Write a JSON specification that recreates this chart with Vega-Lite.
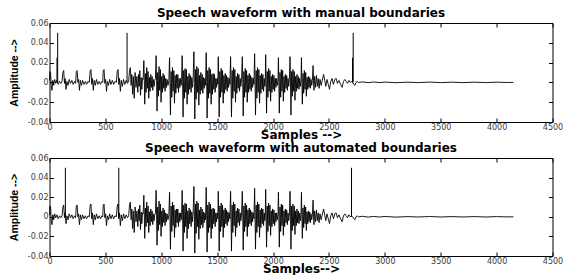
{
  "$schema": "https://vega.github.io/schema/vega-lite/v6.json",
  "padding": {"left": 8.5, "top": 6, "right": 1, "bottom": 0},
  "spacing": 0,
  "background": "white",
  "config": {
    "view": {"stroke": "black", "strokeWidth": 1},
    "axis": {"grid": false, "domain": false, "labelFlush": false, "tickColor": "black", "tickSize": -4, "labelPadding": 5.5, "labelFont": "DejaVu Sans", "labelFontSize": 8, "labelColor": "#3a3a3a", "titleFont": "DejaVu Sans", "titleFontWeight": "bold", "titleColor": "black", "titleFontSize": 12},
    "title": {"font": "DejaVu Sans", "fontSize": 12, "fontWeight": "bold", "color": "black", "offset": -1}
  },
  "datasets": {
    "bounds": [
      {"panel": "manual", "s": 73, "top": 0.05},
      {"panel": "manual", "s": 67, "top": 0.025},
      {"panel": "manual", "s": 694, "top": 0.05},
      {"panel": "manual", "s": 2717, "top": 0.05},
      {"panel": "manual", "s": 2711, "top": 0.025},
      {"panel": "auto", "s": 142, "top": 0.05},
      {"panel": "auto", "s": 620, "top": 0.05},
      {"panel": "auto", "s": 2702, "top": 0.05}
    ],
    "wave": [
      {"s":0,"a":0.002},{"s":4,"a":0.011},{"s":10,"a":0.009},{"s":16,"a":-0.004},{"s":22,"a":-0.008},{"s":30,"a":0.002},{"s":38,"a":-0.003},{"s":46,"a":0.003},{"s":56,"a":-0.001},{"s":66,"a":0.002},{"s":78,"a":-0.002},{"s":90,"a":0.001},{"s":102,"a":-0.001},{"s":112,"a":0.001},
      {"s":120,"a":0.010},{"s":127,"a":0.012},{"s":134,"a":-0.001},{"s":140,"a":0.004},{"s":148,"a":-0.007},{"s":156,"a":0.001},{"s":166,"a":-0.003},{"s":176,"a":0.003},{"s":188,"a":-0.001},{"s":200,"a":0.002},{"s":212,"a":-0.002},{"s":224,"a":0.001},{"s":234,"a":-0.001},
      {"s":240,"a":0.011},{"s":247,"a":0.012},{"s":254,"a":0.000},{"s":260,"a":0.003},{"s":268,"a":-0.008},{"s":276,"a":0.002},{"s":286,"a":-0.003},{"s":296,"a":0.002},{"s":308,"a":-0.002},{"s":320,"a":0.001},{"s":332,"a":-0.002},{"s":344,"a":0.001},{"s":356,"a":0.000},
      {"s":364,"a":0.012},{"s":371,"a":0.013},{"s":378,"a":-0.002},{"s":384,"a":0.004},{"s":392,"a":-0.008},{"s":400,"a":0.002},{"s":410,"a":-0.003},{"s":420,"a":0.003},{"s":432,"a":-0.002},{"s":444,"a":0.001},{"s":456,"a":-0.002},{"s":468,"a":0.001},{"s":476,"a":0.000},
      {"s":481,"a":0.012},{"s":488,"a":0.013},{"s":495,"a":-0.001},{"s":502,"a":0.003},{"s":510,"a":-0.009},{"s":518,"a":0.001},{"s":528,"a":-0.003},{"s":538,"a":0.003},{"s":550,"a":-0.002},{"s":562,"a":0.002},{"s":574,"a":-0.002},{"s":586,"a":0.001},{"s":598,"a":0.000},
      {"s":606,"a":0.011},{"s":613,"a":0.013},{"s":620,"a":-0.002},{"s":626,"a":0.004},{"s":634,"a":-0.009},{"s":642,"a":0.002},{"s":652,"a":-0.004},{"s":662,"a":0.003},{"s":674,"a":-0.002},{"s":686,"a":0.002},{"s":698,"a":-0.001},{"s":708,"a":0.001},
      {"s":716,"a":0.012},{"s":723,"a":0.015},{"s":730,"a":-0.003},{"s":736,"a":0.008},{"s":744,"a":-0.012},{"s":750,"a":0.006},{"s":758,"a":-0.016},{"s":766,"a":0.010},{"s":774,"a":-0.005},{"s":782,"a":0.006},
      {"s":790,"a":-0.010},{"s":796,"a":0.008},{"s":802,"a":-0.004},{"s":808,"a":0.012},{"s":814,"a":-0.013},{"s":820,"a":0.005},{"s":826,"a":-0.007},{"s":832,"a":0.004},{"s":838,"a":0.003},
      {"s":844,"a":0.022},{"s":848,"a":0.004},{"s":852,"a":-0.022},{"s":858,"a":0.009},{"s":864,"a":-0.010},{"s":870,"a":0.015},{"s":876,"a":-0.006},{"s":882,"a":0.011},{"s":888,"a":-0.016},{"s":894,"a":0.005},{"s":900,"a":-0.009},{"s":906,"a":0.008},{"s":912,"a":-0.005},{"s":918,"a":0.006},{"s":924,"a":-0.008},{"s":930,"a":0.003},{"s":936,"a":-0.004},{"s":942,"a":0.002},{"s":948,"a":0.004},
      {"s":954,"a":0.027},{"s":958,"a":0.002},{"s":962,"a":-0.029},{"s":968,"a":0.010},{"s":974,"a":-0.014},{"s":980,"a":0.016},{"s":986,"a":-0.008},{"s":992,"a":0.013},{"s":998,"a":-0.020},{"s":1004,"a":0.006},{"s":1010,"a":-0.010},{"s":1016,"a":0.009},{"s":1022,"a":-0.006},{"s":1028,"a":0.007},{"s":1034,"a":-0.009},{"s":1040,"a":0.004},{"s":1046,"a":-0.005},{"s":1052,"a":0.003},{"s":1060,"a":-0.003},{"s":1068,"a":0.002},
      {"s":1074,"a":0.025},{"s":1078,"a":0.000},{"s":1082,"a":-0.033},{"s":1088,"a":0.011},{"s":1094,"a":-0.015},{"s":1100,"a":0.015},{"s":1106,"a":-0.009},{"s":1112,"a":0.012},{"s":1118,"a":-0.021},{"s":1124,"a":0.007},{"s":1130,"a":-0.011},{"s":1136,"a":0.008},{"s":1142,"a":-0.006},{"s":1148,"a":0.008},{"s":1154,"a":-0.010},{"s":1160,"a":0.004},{"s":1166,"a":-0.005},{"s":1172,"a":0.004},{"s":1178,"a":-0.003},{"s":1182,"a":0.003},
      {"s":1187,"a":0.027},{"s":1191,"a":0.001},{"s":1195,"a":-0.035},{"s":1201,"a":0.012},{"s":1207,"a":-0.016},{"s":1213,"a":0.014},{"s":1219,"a":-0.010},{"s":1225,"a":0.013},{"s":1231,"a":-0.022},{"s":1237,"a":0.006},{"s":1243,"a":-0.012},{"s":1249,"a":0.009},{"s":1255,"a":-0.007},{"s":1261,"a":0.007},{"s":1267,"a":-0.010},{"s":1273,"a":0.005},{"s":1279,"a":-0.005},{"s":1285,"a":0.003},
      {"s":1292,"a":0.031},{"s":1296,"a":0.000},{"s":1300,"a":-0.037},{"s":1306,"a":0.013},{"s":1312,"a":-0.017},{"s":1318,"a":0.016},{"s":1324,"a":-0.010},{"s":1330,"a":0.014},{"s":1336,"a":-0.023},{"s":1342,"a":0.007},{"s":1348,"a":-0.012},{"s":1354,"a":0.010},{"s":1360,"a":-0.008},{"s":1366,"a":0.008},{"s":1372,"a":-0.011},{"s":1378,"a":0.005},{"s":1384,"a":-0.006},{"s":1390,"a":0.004},{"s":1396,"a":-0.003},
      {"s":1402,"a":0.030},{"s":1406,"a":0.001},{"s":1410,"a":-0.036},{"s":1416,"a":0.012},{"s":1422,"a":-0.016},{"s":1428,"a":0.015},{"s":1434,"a":-0.011},{"s":1440,"a":0.013},{"s":1446,"a":-0.022},{"s":1452,"a":0.008},{"s":1458,"a":-0.012},{"s":1464,"a":0.009},{"s":1470,"a":-0.007},{"s":1476,"a":0.008},{"s":1482,"a":-0.010},{"s":1488,"a":0.004},{"s":1494,"a":-0.005},{"s":1500,"a":0.004},{"s":1506,"a":-0.002},
      {"s":1510,"a":0.026},{"s":1514,"a":0.000},{"s":1518,"a":-0.035},{"s":1524,"a":0.011},{"s":1530,"a":-0.015},{"s":1536,"a":0.014},{"s":1542,"a":-0.010},{"s":1548,"a":0.012},{"s":1554,"a":-0.021},{"s":1560,"a":0.007},{"s":1566,"a":-0.011},{"s":1572,"a":0.009},{"s":1578,"a":-0.007},{"s":1584,"a":0.007},{"s":1590,"a":-0.009},{"s":1596,"a":0.005},{"s":1602,"a":-0.005},{"s":1608,"a":0.004},{"s":1614,"a":-0.002},
      {"s":1620,"a":0.026},{"s":1624,"a":0.001},{"s":1628,"a":-0.035},{"s":1634,"a":0.012},{"s":1640,"a":-0.016},{"s":1646,"a":0.015},{"s":1652,"a":-0.009},{"s":1658,"a":0.013},{"s":1664,"a":-0.020},{"s":1670,"a":0.006},{"s":1676,"a":-0.011},{"s":1682,"a":0.009},{"s":1688,"a":-0.006},{"s":1694,"a":0.008},{"s":1700,"a":-0.009},{"s":1706,"a":0.004},{"s":1712,"a":-0.004},{"s":1718,"a":0.003},
      {"s":1725,"a":0.026},{"s":1729,"a":0.000},{"s":1733,"a":-0.034},{"s":1739,"a":0.011},{"s":1745,"a":-0.015},{"s":1751,"a":0.014},{"s":1757,"a":-0.010},{"s":1763,"a":0.012},{"s":1769,"a":-0.020},{"s":1775,"a":0.007},{"s":1781,"a":-0.010},{"s":1787,"a":0.009},{"s":1793,"a":-0.007},{"s":1799,"a":0.007},{"s":1805,"a":-0.009},{"s":1811,"a":0.005},{"s":1817,"a":-0.005},{"s":1823,"a":0.004},{"s":1829,"a":-0.002},
      {"s":1835,"a":0.029},{"s":1839,"a":0.001},{"s":1843,"a":-0.033},{"s":1849,"a":0.012},{"s":1855,"a":-0.016},{"s":1861,"a":0.015},{"s":1867,"a":-0.010},{"s":1873,"a":0.013},{"s":1879,"a":-0.021},{"s":1885,"a":0.007},{"s":1891,"a":-0.011},{"s":1897,"a":0.009},{"s":1903,"a":-0.007},{"s":1909,"a":0.008},{"s":1915,"a":-0.009},{"s":1921,"a":0.004},{"s":1927,"a":-0.004},{"s":1931,"a":0.003},
      {"s":1934,"a":0.028},{"s":1938,"a":0.000},{"s":1942,"a":-0.031},{"s":1948,"a":0.011},{"s":1954,"a":-0.015},{"s":1960,"a":0.014},{"s":1966,"a":-0.009},{"s":1972,"a":0.012},{"s":1978,"a":-0.019},{"s":1984,"a":0.006},{"s":1990,"a":-0.010},{"s":1996,"a":0.008},{"s":2002,"a":-0.007},{"s":2008,"a":0.007},{"s":2014,"a":-0.009},{"s":2020,"a":0.004},{"s":2026,"a":-0.005},{"s":2032,"a":0.004},{"s":2038,"a":-0.003},{"s":2044,"a":0.002},
      {"s":2048,"a":0.025},{"s":2052,"a":0.000},{"s":2056,"a":-0.031},{"s":2062,"a":0.010},{"s":2068,"a":-0.015},{"s":2074,"a":0.013},{"s":2080,"a":-0.009},{"s":2086,"a":0.012},{"s":2092,"a":-0.019},{"s":2098,"a":0.006},{"s":2104,"a":-0.010},{"s":2110,"a":0.008},{"s":2116,"a":-0.006},{"s":2122,"a":0.007},{"s":2128,"a":-0.008},{"s":2134,"a":0.004},{"s":2140,"a":-0.004},{"s":2146,"a":0.003},
      {"s":2152,"a":0.026},{"s":2156,"a":0.000},{"s":2160,"a":-0.033},{"s":2166,"a":0.011},{"s":2172,"a":-0.014},{"s":2178,"a":0.013},{"s":2184,"a":-0.009},{"s":2190,"a":0.011},{"s":2196,"a":-0.018},{"s":2202,"a":0.006},{"s":2208,"a":-0.009},{"s":2214,"a":0.008},{"s":2220,"a":-0.006},{"s":2226,"a":0.006},{"s":2232,"a":-0.007},{"s":2238,"a":0.004},{"s":2244,"a":-0.004},{"s":2250,"a":0.002},
      {"s":2254,"a":0.025},{"s":2258,"a":0.000},{"s":2262,"a":-0.022},{"s":2268,"a":0.009},{"s":2274,"a":-0.011},{"s":2280,"a":0.012},{"s":2286,"a":-0.007},{"s":2292,"a":0.010},{"s":2298,"a":-0.014},{"s":2304,"a":0.005},{"s":2310,"a":-0.007},{"s":2316,"a":0.006},{"s":2322,"a":-0.005},{"s":2328,"a":0.005},{"s":2334,"a":-0.006},{"s":2340,"a":0.003},{"s":2346,"a":-0.003},{"s":2352,"a":0.002},
      {"s":2358,"a":0.017},{"s":2362,"a":0.002},{"s":2366,"a":-0.008},{"s":2372,"a":0.006},{"s":2380,"a":-0.005},{"s":2388,"a":0.007},{"s":2396,"a":-0.004},{"s":2404,"a":0.004},{"s":2412,"a":-0.006},{"s":2420,"a":0.003},{"s":2430,"a":-0.003},{"s":2440,"a":0.002},
      {"s":2452,"a":0.008},{"s":2462,"a":0.002},{"s":2472,"a":-0.004},{"s":2482,"a":0.003},{"s":2494,"a":-0.002},{"s":2505,"a":-0.007},{"s":2516,"a":0.001},{"s":2528,"a":0.004},{"s":2540,"a":-0.002},{"s":2552,"a":0.003},{"s":2564,"a":0.004},{"s":2576,"a":-0.001},{"s":2590,"a":0.002},{"s":2604,"a":-0.002},{"s":2618,"a":-0.005},{"s":2630,"a":0.001},{"s":2642,"a":0.003},{"s":2654,"a":0.001},{"s":2666,"a":-0.001},{"s":2678,"a":0.002},{"s":2690,"a":0.000},{"s":2702,"a":0.001},{"s":2712,"a":0.000},{"s":2722,"a":-0.002},{"s":2732,"a":-0.003},{"s":2742,"a":0.000},{"s":2752,"a":0.001},{"s":2764,"a":0.000},
      {"s":2800,"a":0.0005},{"s":2850,"a":-0.0003},{"s":2900,"a":0.0004},{"s":2950,"a":-0.0002},{"s":3000,"a":0.0003},{"s":3100,"a":-0.0003},{"s":3200,"a":0.0002},{"s":3300,"a":-0.0002},{"s":3400,"a":0.0003},{"s":3500,"a":-0.0002},{"s":3600,"a":0.0002},{"s":3700,"a":-0.0002},{"s":3800,"a":0.0002},{"s":3900,"a":-0.0002},{"s":4000,"a":0.0002},{"s":4100,"a":-0.0001},{"s":4150,"a":0.0}
    ]
  },
  "vconcat": [
    {
      "title": {"text": "Speech waveform with manual boundaries"},
      "width": 503,
      "height": 99,
      "resolve": {"axis": {"x": "independent", "y": "independent"}},
      "layer": [
        {
          "data": {"name": "wave"},
          "mark": {"type": "line", "color": "black", "strokeWidth": 0.9},
          "encoding": {
            "x": {"field": "s", "type": "quantitative", "scale": {"domain": [0, 4500], "nice": false}, "axis": {"title": "Samples -->", "values": [0,500,1000,1500,2000,2500,3000,3500,4000,4500], "format": "d", "titlePadding": -2}},
            "y": {"field": "a", "type": "quantitative", "scale": {"domain": [-0.04, 0.06], "nice": false, "zero": false}, "axis": {"title": "Amplitude -->", "titleFont": "Liberation Sans", "titleFontSize": 10.5, "values": [-0.04,-0.02,0,0.02,0.04,0.06], "labelExpr": "'' + datum.value", "titlePadding": 8}}
          }
        },
        {
          "data": {"name": "bounds"},
          "transform": [{"filter": "datum.panel === 'manual'"}],
          "mark": {"type": "rule", "color": "black", "strokeWidth": 1},
          "encoding": {
            "x": {"field": "s", "type": "quantitative", "scale": {"domain": [0, 4500], "nice": false}, "axis": {"orient": "top", "labels": false, "title": null, "values": [0,500,1000,1500,2000,2500,3000,3500,4000,4500]}},
            "y": {"field": "top", "type": "quantitative", "scale": {"domain": [-0.04, 0.06], "nice": false, "zero": false}, "axis": {"orient": "right", "labels": false, "title": null, "values": [-0.04,-0.02,0,0.02,0.04,0.06]}},
            "y2": {"datum": 0}
          }
        }
      ]
    },
    {
      "title": {"text": "Speech waveform with automated boundaries"},
      "width": 503,
      "height": 98,
      "resolve": {"axis": {"x": "independent", "y": "independent"}},
      "layer": [
        {
          "data": {"name": "wave"},
          "mark": {"type": "line", "color": "black", "strokeWidth": 0.9},
          "encoding": {
            "x": {"field": "s", "type": "quantitative", "scale": {"domain": [0, 4500], "nice": false}, "axis": {"title": "Samples-->", "values": [0,500,1000,1500,2000,2500,3000,3500,4000,4500], "format": "d", "titlePadding": -2}},
            "y": {"field": "a", "type": "quantitative", "scale": {"domain": [-0.04, 0.06], "nice": false, "zero": false}, "axis": {"title": "Amplitude -->", "titleFont": "Liberation Sans", "titleFontSize": 10.5, "values": [-0.04,-0.02,0,0.02,0.04,0.06], "labelExpr": "'' + datum.value", "titlePadding": 8}}
          }
        },
        {
          "data": {"name": "bounds"},
          "transform": [{"filter": "datum.panel === 'auto'"}],
          "mark": {"type": "rule", "color": "black", "strokeWidth": 1},
          "encoding": {
            "x": {"field": "s", "type": "quantitative", "scale": {"domain": [0, 4500], "nice": false}, "axis": {"orient": "top", "labels": false, "title": null, "values": [0,500,1000,1500,2000,2500,3000,3500,4000,4500]}},
            "y": {"field": "top", "type": "quantitative", "scale": {"domain": [-0.04, 0.06], "nice": false, "zero": false}, "axis": {"orient": "right", "labels": false, "title": null, "values": [-0.04,-0.02,0,0.02,0.04,0.06]}},
            "y2": {"datum": 0}
          }
        }
      ]
    }
  ]
}
